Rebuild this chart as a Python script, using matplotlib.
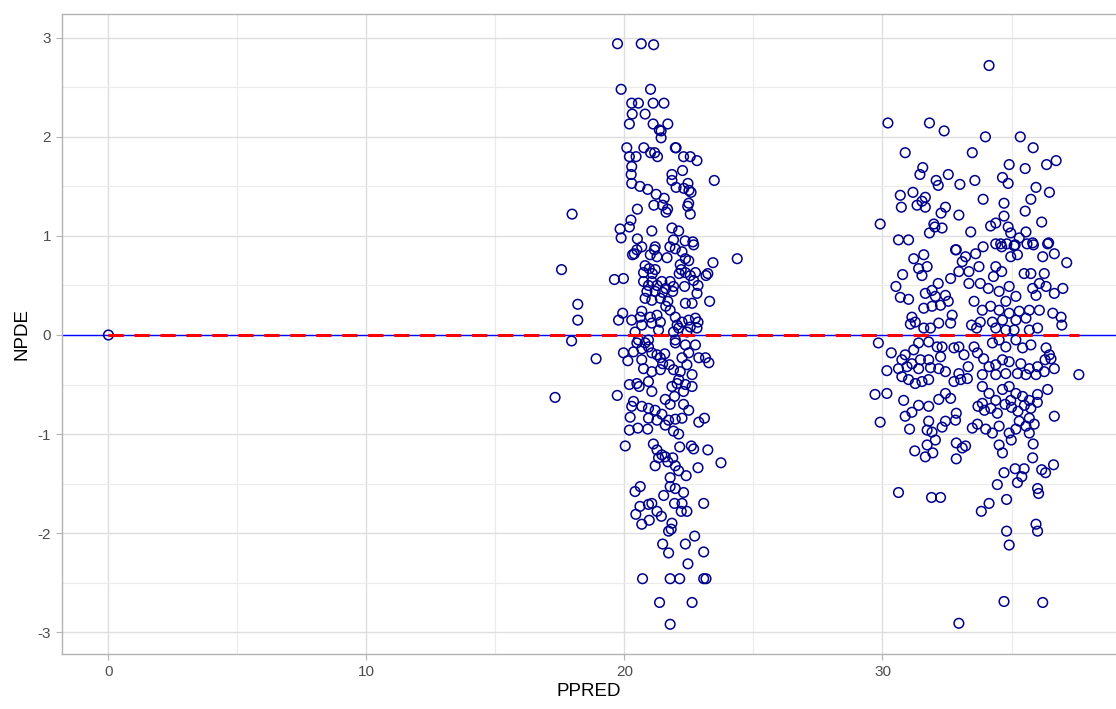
import matplotlib
matplotlib.use("Agg")
import matplotlib.pyplot as plt

# Population predictions (PPRED) and normalised prediction distribution errors (NPDE)
ppred_origin = [0.0]
npde_origin = [0.0]

ppred_low = [
    19.73, 20.65, 21.13, 19.87, 21.01, 20.28, 20.54, 21.11, 21.53, 20.30,
    20.80, 20.19, 21.11, 21.68, 21.35, 21.42, 21.42, 20.09, 20.75, 21.01,
    21.17, 21.28, 21.97, 22.00, 20.19, 20.45, 22.29, 22.55, 22.81, 20.28,
    20.26, 21.84, 22.25, 21.84, 22.46, 23.48, 20.28, 20.60, 20.90, 22.00,
    22.30, 22.50,
    21.23, 21.54, 22.58, 21.14, 21.48, 21.67, 21.61, 22.49, 22.45, 22.55,
    17.97, 20.50, 20.25, 20.19, 19.83, 19.87, 21.06, 21.84, 22.10, 20.50,
    21.90, 22.35, 22.65, 22.68, 21.19, 21.16, 20.67, 20.48, 20.38, 20.31,
    21.76, 21.97, 22.23, 21.00, 21.26, 21.65, 22.36, 22.49, 23.43, 24.37,
    17.56, 20.80, 20.96, 21.19, 20.74, 21.08, 22.16, 22.20, 22.12, 22.36,
    22.75, 22.55, 23.16, 23.23, 19.61, 19.96, 20.74, 21.06, 21.45, 21.77,
    22.68, 22.85, 20.93, 21.26, 21.60, 21.90, 22.33, 20.87, 21.19, 21.48,
    21.87, 22.81, 20.80, 21.06, 21.39, 21.68, 21.60, 21.77, 18.19, 18.19,
    22.36, 22.62, 23.30, 19.93, 19.77, 20.28, 20.61, 20.67, 21.00, 21.26,
    21.39, 21.06, 20.67, 21.97, 22.04, 22.23, 22.49, 22.75, 22.85, 22.55,
    22.81, 20.41, 21.32, 21.90, 22.10, 22.42, 17.95, 20.54, 20.93, 21.97,
    18.90, 17.31, 19.72, 19.96, 20.13, 20.35, 20.48, 20.67, 20.80, 20.93,
    21.06, 21.26, 21.39, 21.56, 21.48, 21.74, 20.67, 20.74, 21.06, 21.39,
    21.90, 22.23, 22.42, 22.49, 22.75, 22.88, 23.14, 23.27, 22.36, 21.97,
    22.16, 22.62, 22.10, 20.19, 20.48, 20.57, 20.93, 21.06, 21.84, 22.04,
    22.36, 22.62, 22.29, 21.58, 21.94, 20.35, 20.28, 20.67, 20.93, 21.19,
    21.45, 21.77, 22.29, 22.49, 20.22, 20.93, 21.26, 21.71, 21.97, 22.23,
    22.88, 23.10, 20.19, 20.52, 20.90, 21.58, 21.90, 22.10, 20.03, 21.12,
    21.26, 21.45, 21.32, 21.58, 21.19, 21.68, 21.87, 22.14, 22.59, 22.68,
    23.23, 23.74, 21.97, 22.10, 22.39, 22.85, 21.77, 21.77, 20.61, 20.41,
    21.97, 22.29, 21.52,
    21.94, 22.23, 23.07, 20.60, 20.93, 21.06, 21.26, 21.43, 22.20, 22.42,
    20.44, 20.67, 20.96, 21.84, 21.71, 21.81, 22.72, 21.48, 22.36, 21.71,
    23.07, 22.46, 20.70, 21.77, 22.14, 23.07, 23.16, 21.36, 22.62, 21.77,
]
npde_low = [
    2.94, 2.94, 2.93, 2.48, 2.48, 2.34, 2.34, 2.34, 2.34, 2.23,
    2.23, 2.13, 2.13, 2.13, 2.07, 2.06, 1.99, 1.89, 1.89, 1.84,
    1.84, 1.80, 1.89, 1.89, 1.80, 1.80, 1.80, 1.80, 1.76, 1.70,
    1.62, 1.62, 1.66, 1.56, 1.53, 1.56, 1.53, 1.50, 1.47, 1.49,
    1.48, 1.46,
    1.42, 1.38, 1.44, 1.31, 1.31, 1.27, 1.24, 1.33, 1.30, 1.22,
    1.22, 1.27, 1.16, 1.09, 1.07, 0.98, 1.05, 1.08, 1.05, 0.97,
    0.96, 0.95, 0.94, 0.91, 0.89, 0.86, 0.89, 0.86, 0.82, 0.81,
    0.89, 0.87, 0.84, 0.81, 0.79, 0.78, 0.77, 0.75, 0.73, 0.77,
    0.66, 0.70, 0.67, 0.66, 0.63, 0.62, 0.71, 0.66, 0.62, 0.63,
    0.63, 0.60, 0.60, 0.62, 0.56, 0.57, 0.54, 0.54, 0.54, 0.54,
    0.55, 0.50, 0.50, 0.50, 0.47, 0.49, 0.49, 0.44, 0.44, 0.43,
    0.44, 0.42, 0.37, 0.35, 0.37, 0.34, 0.29, 0.25, 0.31, 0.15,
    0.32, 0.32, 0.34, 0.22, 0.15, 0.15, 0.18, 0.24, 0.18, 0.20,
    0.13, 0.12, 0.10, 0.18, 0.10, 0.13, 0.15, 0.17, 0.13, 0.08,
    0.07, 0.03, 0.05, 0.03, 0.07, 0.03, -0.06, -0.05, -0.05, -0.05,
    -0.24, -0.63, -0.61, -0.18, -0.26, -0.17, -0.08, -0.14, -0.08, -0.12,
    -0.18, -0.20, -0.23, -0.19, -0.29, -0.30, -0.25, -0.34, -0.37, -0.35,
    -0.35, -0.23, -0.30, -0.18, -0.10, -0.23, -0.23, -0.28, -0.10, -0.08,
    -0.37, -0.40, -0.45, -0.50, -0.49, -0.52, -0.47, -0.57, -0.52, -0.49,
    -0.50, -0.52, -0.57, -0.65, -0.62, -0.67, -0.72, -0.72, -0.74, -0.76,
    -0.80, -0.70, -0.70, -0.76, -0.83, -0.84, -0.86, -0.86, -0.85, -0.84,
    -0.88, -0.84, -0.96, -0.94, -0.95, -0.91, -0.97, -1.00, -1.12, -1.10,
    -1.16, -1.21, -1.24, -1.23, -1.32, -1.28, -1.24, -1.13, -1.12, -1.15,
    -1.16, -1.29, -1.32, -1.37, -1.42, -1.34, -1.44, -1.53, -1.53, -1.58,
    -1.55, -1.59, -1.62,
    -1.70, -1.70, -1.70, -1.73, -1.71, -1.70, -1.78, -1.83, -1.78, -1.78,
    -1.81, -1.91, -1.87, -1.90, -1.98, -1.96, -2.03, -2.11, -2.11, -2.20,
    -2.19, -2.31, -2.46, -2.46, -2.46, -2.46, -2.46, -2.70, -2.70, -2.92,
]

ppred_high = [
    34.13, 30.21, 31.82, 32.39, 33.99, 35.34, 35.84, 30.88, 33.48, 34.91,
    35.53, 36.36, 36.73, 31.56, 31.45, 32.08, 32.16, 32.55, 33.00, 33.58,
    34.65, 34.87, 30.69, 31.18, 31.66, 31.53, 31.34, 31.66, 30.73, 33.90,
    34.71, 35.95, 36.47, 35.75, 35.53, 32.44, 32.27, 32.96, 34.71, 29.91,
    31.99, 32.03, 32.31, 31.82, 33.42, 34.19, 34.39, 34.87, 34.97, 36.17,
    30.62, 31.01, 35.56, 35.30, 35.82, 36.44, 32.86, 33.90, 34.39, 34.58,
    35.10,
    31.21, 31.60, 31.40, 31.73, 31.53, 30.78, 30.52, 30.69, 31.01, 32.83,
    33.22, 33.09, 33.61, 33.74, 33.35, 32.96, 32.64, 32.16, 31.92, 31.66,
    32.05, 32.44, 32.55, 32.25, 31.92, 31.60, 31.14, 31.27, 31.08, 32.70,
    32.64, 32.18, 31.86, 31.60, 33.35, 33.79, 34.10, 34.30, 34.62, 34.39,
    34.97, 35.23, 34.62, 34.82, 35.14, 35.60, 35.85, 36.21, 36.40, 36.66,
    37.14, 35.49, 35.75, 36.27, 36.08, 36.34, 35.82, 35.95, 36.66, 36.99,
    34.91, 34.52, 35.17, 34.78, 33.55, 33.87, 34.19, 34.52, 34.91, 35.30,
    35.69, 36.08, 35.56, 35.17, 34.65, 34.26, 33.79, 33.45, 33.65, 36.60,
    36.92, 36.95, 34.39, 34.78, 35.10, 35.69, 36.01,
    29.84, 30.34, 30.88, 31.21, 31.40, 31.79, 32.12, 32.31, 32.77, 32.96,
    33.16, 30.75, 31.14, 31.47, 31.79, 32.25, 30.17, 30.62, 30.95, 31.40,
    31.86, 32.18, 32.44, 33.32, 32.96, 30.75, 31.01, 31.27, 31.53, 31.79,
    32.77, 33.03, 33.29, 33.55, 33.68, 33.92, 34.26, 34.52, 34.78, 35.17,
    35.43, 35.75, 36.34, 36.47, 36.53, 36.30, 36.66, 36.01, 35.69, 35.36,
    34.91, 34.65, 34.39, 34.13, 33.87, 34.39, 34.78, 35.23, 35.56, 35.95,
    36.27, 37.61, 29.71, 30.17, 30.82, 32.44, 32.64, 32.18, 33.87, 34.13,
    34.39, 34.65, 34.91, 35.17, 34.97, 35.43, 35.69, 36.01, 36.40, 31.40,
    31.79, 33.87,
    33.70, 33.95, 34.20, 34.45, 34.75, 35.00, 35.25, 35.50, 35.75, 36.00,
    29.91, 30.88, 31.14, 31.05, 31.79, 31.73, 31.92, 32.05, 32.31, 32.44,
    32.83, 32.86, 31.73, 31.25, 31.66, 31.95, 32.86, 33.09, 33.22, 32.86,
    33.48, 33.68, 34.00, 34.26, 34.52, 34.91, 35.17, 35.30, 35.56, 35.69,
    35.88, 35.69, 34.52, 34.65, 34.99, 35.84, 36.66, 35.82, 35.14, 35.49,
    35.40, 35.23, 34.71, 34.45, 36.17, 36.32, 36.63, 36.01, 36.05, 30.62,
    31.90, 32.25, 34.13, 33.83, 34.81, 35.95, 36.01, 34.81, 34.91, 34.71,
    36.21, 32.96,
]
npde_high = [
    2.72, 2.14, 2.14, 2.06, 2.00, 2.00, 1.89, 1.84, 1.84, 1.72,
    1.68, 1.72, 1.76, 1.69, 1.62, 1.56, 1.51, 1.62, 1.52, 1.56,
    1.59, 1.53, 1.41, 1.44, 1.39, 1.35, 1.31, 1.29, 1.29, 1.37,
    1.33, 1.49, 1.44, 1.37, 1.25, 1.29, 1.23, 1.21, 1.20, 1.12,
    1.12, 1.09, 1.08, 1.03, 1.04, 1.10, 1.13, 1.09, 1.03, 1.14,
    0.96, 0.96, 1.04, 0.98, 0.93, 0.93, 0.86, 0.89, 0.92, 0.92,
    0.90,
    0.77, 0.81, 0.67, 0.69, 0.60, 0.61, 0.49, 0.38, 0.36, 0.86,
    0.79, 0.74, 0.82, 0.69, 0.64, 0.64, 0.57, 0.52, 0.45, 0.42,
    0.39, 0.40, 0.34, 0.30, 0.29, 0.27, 0.18, 0.13, 0.11, 0.20,
    0.12, 0.12, 0.07, 0.07, 0.52, 0.52, 0.47, 0.59, 0.64, 0.69,
    0.79, 0.81, 0.89, 0.92, 0.91, 0.92, 0.91, 0.79, 0.92, 0.82,
    0.73, 0.62, 0.62, 0.62, 0.52, 0.49, 0.47, 0.40, 0.42, 0.47,
    0.49, 0.44, 0.39, 0.34, 0.34, 0.25, 0.29, 0.25, 0.22, 0.24,
    0.25, 0.25, 0.17, 0.15, 0.15, 0.13, 0.13, 0.10, 0.07, 0.22,
    0.18, 0.10, 0.07, 0.05, 0.05, 0.05, 0.07,
    -0.08, -0.18, -0.20, -0.15, -0.08, -0.07, -0.12, -0.12, -0.13, -0.12,
    -0.20, -0.25, -0.29, -0.25, -0.25, -0.22, -0.36, -0.34, -0.32, -0.34,
    -0.33, -0.34, -0.37, -0.32, -0.39, -0.42, -0.45, -0.49, -0.47, -0.45,
    -0.47, -0.45, -0.44, -0.12, -0.18, -0.24, -0.08, -0.05, -0.12, -0.05,
    -0.13, -0.10, -0.13, -0.20, -0.24, -0.25, -0.34, -0.32, -0.34, -0.29,
    -0.27, -0.25, -0.30, -0.32, -0.40, -0.40, -0.39, -0.39, -0.40, -0.40,
    -0.37, -0.40, -0.60, -0.59, -0.66, -0.59, -0.64, -0.65, -0.52, -0.59,
    -0.66, -0.55, -0.52, -0.59, -0.66, -0.62, -0.66, -0.60, -0.55, -0.71,
    -0.72, -0.69,
    -0.72, -0.76, -0.74, -0.79, -0.70, -0.73, -0.77, -0.71, -0.74, -0.68,
    -0.88, -0.82, -0.78, -0.95, -0.87, -0.96, -0.98, -1.06, -0.93, -0.87,
    -0.86, -0.79, -1.11, -1.17, -1.23, -1.19, -1.09, -1.14, -1.12, -1.25,
    -0.94, -0.90, -0.95, -0.99, -0.92, -0.99, -0.95, -0.87, -0.92, -0.84,
    -0.90, -0.99, -1.11, -1.19, -1.06, -1.10, -0.82, -1.24, -1.35, -1.35,
    -1.43, -1.49, -1.39, -1.51, -1.36, -1.39, -1.31, -1.55, -1.60, -1.59,
    -1.64, -1.64, -1.70, -1.78, -1.66, -1.91, -1.98, -1.98, -2.12, -2.69,
    -2.70, -2.91,
]

# Trend of NPDE versus PPRED (red dashed) and the zero reference (blue)
trend_x = [0.0, 37.6]
trend_y = [0.0, 0.0]
reference_y = 0.0

x_ticks = [0, 10, 20, 30]
y_ticks = [-3, -2, -1, 0, 1, 2, 3]

plt.rcParams["font.family"] = ["Liberation Sans", "DejaVu Sans"]
plt.rcParams["axes.unicode_minus"] = False

fig = plt.figure(figsize=(11.16, 7.09), dpi=100)
ax = fig.add_axes([62 / 1116, 55 / 709, 1 - 62 / 1116, 640 / 709])

ax.set_xlim(-1.8, 39.05)
ax.set_ylim(-3.22, 3.24)

# light theme grid
ax.set_xticks(x_ticks)
ax.set_yticks(y_ticks)
ax.set_xticks([5, 15, 25, 35], minor=True)
ax.set_yticks([-2.5, -1.5, -0.5, 0.5, 1.5, 2.5], minor=True)
ax.grid(which="major", color="#DEDEDE", linewidth=1.0, zorder=0)
ax.grid(which="minor", color="#EBEBEB", linewidth=0.8, zorder=0)
ax.set_axisbelow(True)

for side in ("left", "top", "bottom"):
    ax.spines[side].set_color("#B3B3B3")
    ax.spines[side].set_linewidth(1.0)
ax.spines["right"].set_visible(False)

ax.tick_params(which="major", length=4, color="#B3B3B3", labelcolor="#4D4D4D",
               labelsize=11, width=0.8, pad=4)
ax.tick_params(which="minor", length=0)

ax.axhline(reference_y, color="#0000FF", linewidth=1.0, zorder=2)

all_x = ppred_origin + ppred_low + ppred_high
all_y = npde_origin + npde_low + npde_high
ax.scatter(all_x, all_y, s=48, facecolors="none", edgecolors="#00008B",
           linewidths=1.1, zorder=3)

ax.plot(trend_x, trend_y, color="#FF0000", linewidth=2.2,
        dashes=(5, 3.5), zorder=4)

ax.set_xlabel("PPRED", fontsize=13.5, color="black", labelpad=3)
ax.set_ylabel("NPDE", fontsize=13.5, color="black", labelpad=5)

fig.savefig("out.png", dpi=100)
